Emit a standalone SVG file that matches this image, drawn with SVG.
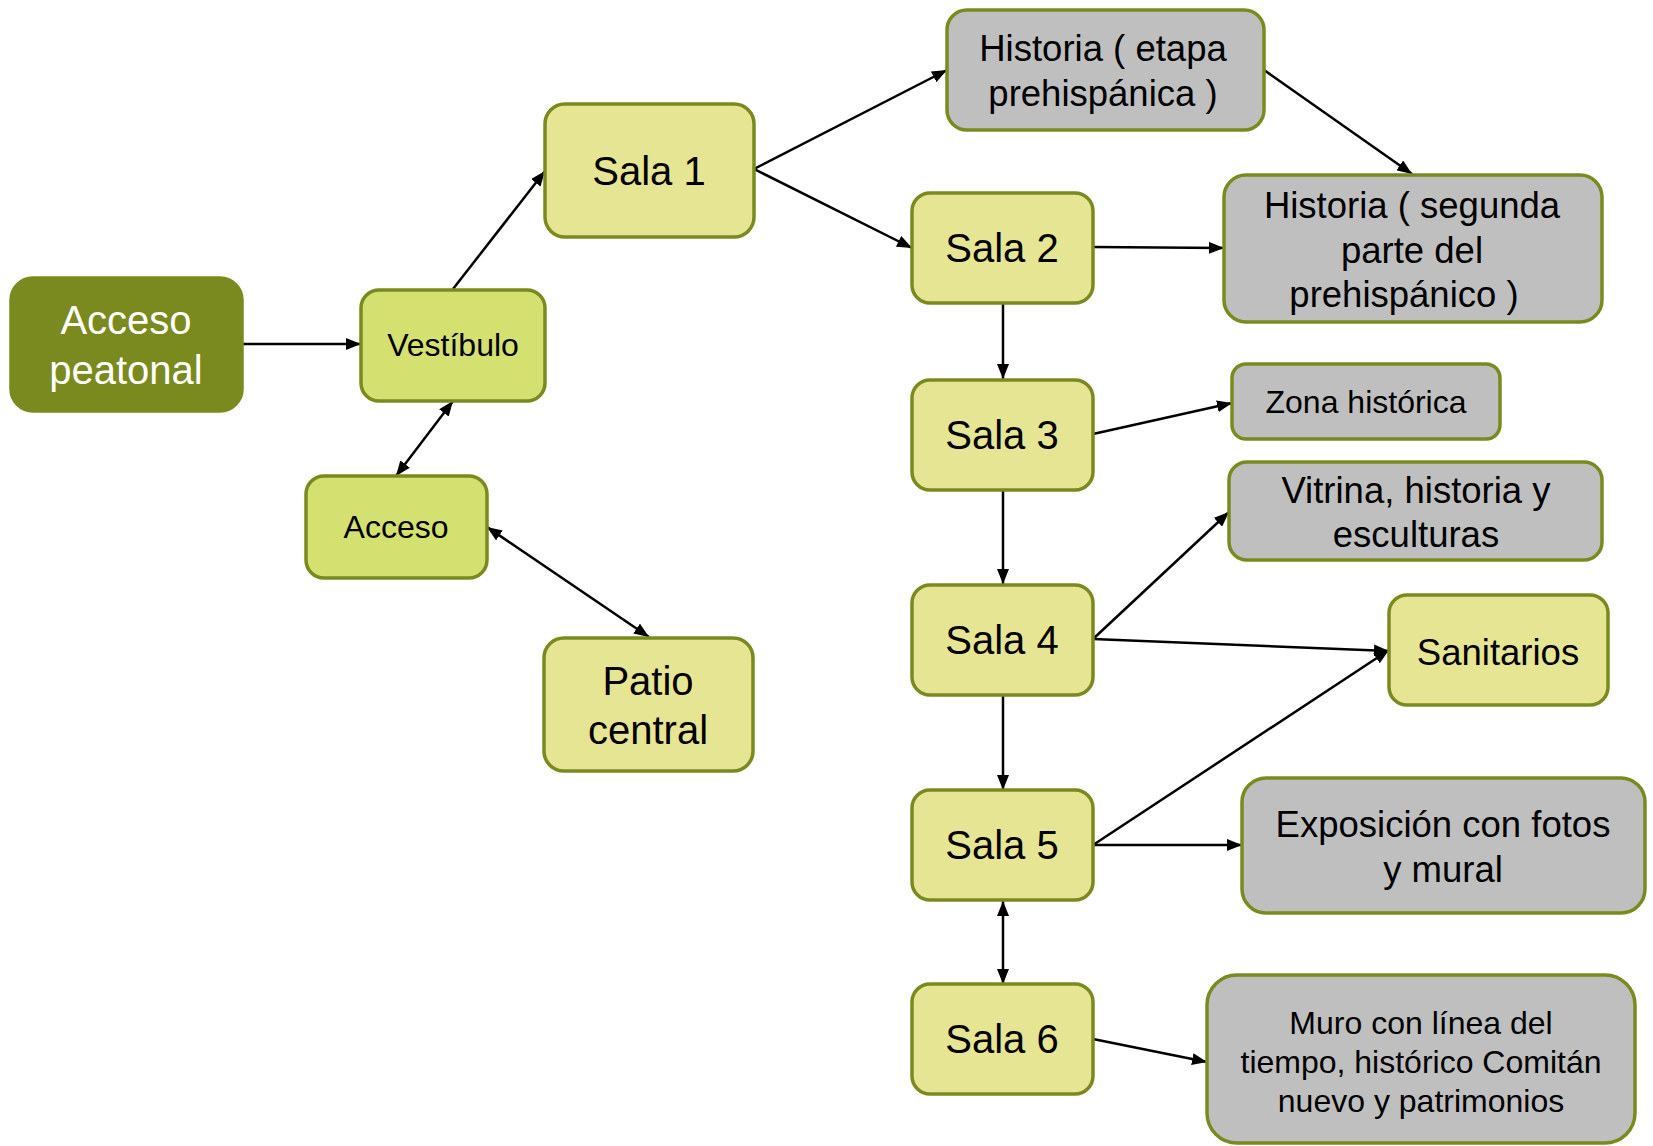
<svg xmlns="http://www.w3.org/2000/svg" width="1653" height="1146" viewBox="0 0 1653 1146">
<defs>
<marker id="ah" markerUnits="userSpaceOnUse" markerWidth="16" markerHeight="12" refX="15" refY="6" orient="auto-start-reverse">
<path d="M0,0 L15,6 L0,12 z" fill="#000"/>
</marker>
<style>
.sala{fill:#E6E594;stroke:#7B8A1E;stroke-width:3.5}
.lime{fill:#D4E170;stroke:#7B8A1E;stroke-width:3.5}
.gray{fill:#BFBFBF;stroke:#7B8A1E;stroke-width:3.5}
.dark{fill:#7B8A1E;stroke:#7B8A1E;stroke-width:3.5}
text{font-family:"Liberation Sans",Arial,sans-serif;text-anchor:middle;dominant-baseline:central;fill:#000}
.w{fill:#fff}
.f40{font-size:40px}
.f37{font-size:36.5px}
.f32{font-size:32px}
.c line{stroke:#000;stroke-width:2.5;marker-end:url(#ah)}
.c line.both{marker-start:url(#ah)}
</style>
</defs>
<g class="c" id="connectors">
<line x1="243" y1="344" x2="361" y2="344"/>
<line x1="453" y1="289" x2="545" y2="171"/>
<line class="both" x1="453" y1="401" x2="396" y2="476"/>
<line class="both" x1="487" y1="527" x2="649" y2="637"/>
<line x1="754" y1="169" x2="947" y2="70"/>
<line x1="754" y1="169" x2="912" y2="248"/>
<line x1="1264" y1="70" x2="1412" y2="174"/>
<line x1="1093" y1="247" x2="1224" y2="248"/>
<line x1="1003" y1="303" x2="1003" y2="379"/>
<line x1="1093" y1="434" x2="1232" y2="403"/>
<line x1="1003" y1="490" x2="1003" y2="584"/>
<line x1="1093" y1="639" x2="1229" y2="512"/>
<line x1="1093" y1="639" x2="1389" y2="651"/>
<line x1="1003" y1="696" x2="1003" y2="790"/>
<line x1="1093" y1="845" x2="1389" y2="650"/>
<line x1="1093" y1="845" x2="1242" y2="845"/>
<line class="both" x1="1003" y1="901" x2="1003" y2="984"/>
<line x1="1093" y1="1039" x2="1207" y2="1062"/>
</g>
<g id="acceso-peatonal"><rect class="dark" x="11" y="278" width="231" height="133" rx="22"/><text class="w f40" x="126" y="320">Acceso</text><text class="w f40" x="126" y="370">peatonal</text></g>
<g id="vestibulo"><rect class="lime" x="361" y="290" width="184" height="111" rx="18"/><text class="f32" x="453" y="345">Vestíbulo</text></g>
<g id="acceso"><rect class="lime" x="306" y="476" width="181" height="102" rx="18"/><text class="f32" x="396" y="527">Acceso</text></g>
<g id="patio"><rect class="sala" x="544" y="638" width="209" height="133" rx="20"/><text class="f40" x="648" y="681">Patio</text><text class="f40" x="648" y="730">central</text></g>
<g id="sala1"><rect class="sala" x="545" y="104" width="209" height="133" rx="20"/><text class="f40" x="649" y="171">Sala 1</text></g>
<g id="sala2"><rect class="sala" x="912" y="193" width="181" height="110" rx="18"/><text class="f40" x="1002" y="248">Sala 2</text></g>
<g id="sala3"><rect class="sala" x="912" y="380" width="181" height="110" rx="18"/><text class="f40" x="1002" y="435">Sala 3</text></g>
<g id="sala4"><rect class="sala" x="912" y="585" width="181" height="110" rx="18"/><text class="f40" x="1002" y="640">Sala 4</text></g>
<g id="sala5"><rect class="sala" x="912" y="790" width="181" height="110" rx="18"/><text class="f40" x="1002" y="845">Sala 5</text></g>
<g id="sala6"><rect class="sala" x="912" y="984" width="181" height="110" rx="18"/><text class="f40" x="1002" y="1039">Sala 6</text></g>
<g id="historia-etapa"><rect class="gray" x="947" y="10" width="317" height="120" rx="20"/><text class="f37" x="1103" y="48">Historia ( etapa</text><text class="f37" x="1103" y="93">prehispánica )</text></g>
<g id="historia-segunda"><rect class="gray" x="1224" y="175" width="378" height="147" rx="22"/><text class="f37" x="1412" y="205">Historia ( segunda</text><text class="f37" x="1412" y="250">parte del</text><text class="f37" x="1404" y="294">prehispánico )</text></g>
<g id="zona"><rect class="gray" x="1232" y="364" width="268" height="75" rx="14"/><text class="f32" x="1366" y="402">Zona histórica</text></g>
<g id="vitrina"><rect class="gray" x="1229" y="462" width="373" height="98" rx="18"/><text class="f37" x="1416" y="490">Vitrina, historia y</text><text class="f37" x="1416" y="534">esculturas</text></g>
<g id="sanitarios"><rect class="sala" x="1389" y="595" width="219" height="110" rx="18"/><text class="f37" x="1498" y="652">Sanitarios</text></g>
<g id="exposicion"><rect class="gray" x="1242" y="778" width="403" height="135" rx="24"/><text class="f37" x="1443" y="824">Exposición con fotos</text><text class="f37" x="1443" y="869">y mural</text></g>
<g id="muro"><rect class="gray" x="1207" y="975" width="428" height="168" rx="30"/><text class="f32" x="1421" y="1023">Muro con línea del</text><text class="f32" x="1421" y="1062">tiempo, histórico Comitán</text><text class="f32" x="1421" y="1101">nuevo y patrimonios</text></g>
</svg>
